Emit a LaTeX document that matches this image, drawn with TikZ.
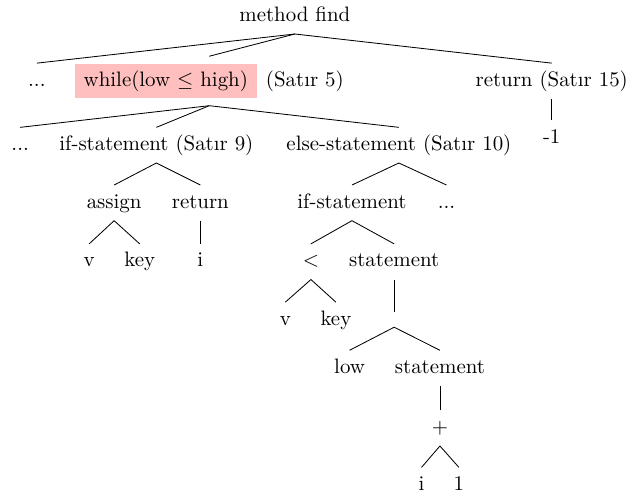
\documentclass[tikz,border=0pt]{standalone}
\usepackage{fontspec}
\usepackage{xcolor}
\usepackage{tikz}
\usepackage{amssymb}
\usepackage{amsmath}
\usetikzlibrary{positioning, calc}
\definecolor{hlpink}{HTML}{FFBFBF}
\definecolor{csprimary}{HTML}{000000}

\begin{document}
\begin{tikzpicture}[
    tnode/.style={anchor=base, text height=7.5pt, text depth=2.5pt},
    hnode/.style={anchor=base},
    edge/.style={csprimary, thin}
  ]
    \useasboundingbox (0,0) rectangle (10.58,8.38);

    % Root and first level
    \node[tnode] (root) at (4.96,8.02) {method find};
    \node[tnode] (dotsa) at (0.62,6.93) {...};
    \node[hnode] (while) at (3.52,6.93) {\fboxsep=3.3pt\colorbox{hlpink}{\hspace{1pt}while(low $\leq$ high)\hspace{1pt}}\hspace{1pt} (Satır 5)};
    \node[tnode] (ret) at (9.28,6.93) {return (Satır 15)};
    \node[tnode] (minus) at (9.28,5.97) {-1};

    % Body of the loop
    \node[tnode] (dotsb) at (0.34,5.85) {...};
    \node[tnode] (ifst) at (2.63,5.85) {if-statement (Satır 9)};
    \node[tnode] (elsest) at (6.71,5.85) {else-statement (Satır 10)};

    % if branch
    \node[tnode] (assign) at (1.92,4.88) {assign};
    \node[tnode] (retb) at (3.37,4.88) {return};
    \node[tnode] (va) at (1.50,3.89) {v};
    \node[tnode] (keya) at (2.35,3.89) {key};
    \node[tnode] (ia) at (3.37,3.89) {i};

    % else branch
    \node[tnode] (ifin) at (5.92,4.88) {if-statement};
    \node[tnode] (dotsc) at (7.51,4.88) {...};
    \node[tnode] (less) at (5.23,3.89) {$<$};
    \node[tnode] (stma) at (6.63,3.89) {statement};
    \node[tnode] (vb) at (4.80,2.91) {v};
    \node[tnode] (keyb) at (5.65,2.91) {key};
    \node[hnode] (blank) at (6.63,3.00) {};
    \node[tnode] (low) at (5.88,2.10) {low};
    \node[tnode] (stmb) at (7.40,2.10) {statement};
    \node[tnode] (plus) at (7.40,1.09) {$+$};
    \node[tnode] (ib) at (7.09,0.13) {i};
    \node[tnode] (one) at (7.72,0.13) {1};

    % Edges
    \draw[edge] (root.south) -- (dotsa.north);
    \draw[edge] (root.south) -- (while.north);
    \draw[edge] (root.south) -- (ret.north);
    \draw[edge] (ret.south) -- (minus.north);
    \draw[edge] (while.south) -- (dotsb.north);
    \draw[edge] (while.south) -- (ifst.north);
    \draw[edge] (while.south) -- (elsest.north);
    \draw[edge] (ifst.south) -- (assign.north);
    \draw[edge] (ifst.south) -- (retb.north);
    \draw[edge] (assign.south) -- (va.north);
    \draw[edge] (assign.south) -- (keya.north);
    \draw[edge] (retb.south) -- (ia.north);
    \draw[edge] (elsest.south) -- (ifin.north);
    \draw[edge] (elsest.south) -- (dotsc.north);
    \draw[edge] (ifin.south) -- (less.north);
    \draw[edge] (ifin.south) -- (stma.north);
    \draw[edge] (less.south) -- (vb.north);
    \draw[edge] (less.south) -- (keyb.north);
    \draw[edge] (stma.south) -- (blank.north);
    \draw[edge] (blank.south) -- (low.north);
    \draw[edge] (blank.south) -- (stmb.north);
    \draw[edge] (stmb.south) -- (plus.north);
    \draw[edge] (plus.south) -- (ib.north);
    \draw[edge] (plus.south) -- (one.north);
\end{tikzpicture}
\end{document}
